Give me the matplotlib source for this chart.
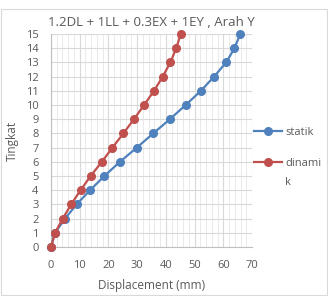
import matplotlib
matplotlib.use("Agg")
import matplotlib.pyplot as plt
from matplotlib.patches import Rectangle

levels = list(range(0, 16))
statik = [0, 1.4, 4.9, 8.9, 13.6, 18.6, 24.0, 29.9, 35.6, 41.4, 46.9, 52.2, 56.8, 61.0, 63.9, 65.9]
dinamik = [0, 1.4, 4.1, 7.0, 10.3, 13.8, 17.7, 21.4, 25.2, 28.9, 32.4, 35.9, 38.9, 41.6, 43.6, 45.2]
title = "1.2DL + 1LL + 0.3EX + 1EY , Arah Y"
xticks = [0, 10, 20, 30, 40, 50, 60, 70]

plt.rcParams['font.family'] = ['Open Sans', 'DejaVu Sans']
txt = '#595959'

fig = plt.figure(figsize=(3.28, 2.96), dpi=100)
fig.patches.append(Rectangle((0.003, 0.003), 0.994, 0.965, transform=fig.transFigure,
                             fill=False, edgecolor='#d9d9d9', linewidth=0.8))
W, H = 328, 296
ax = fig.add_axes([51 / W, 1 - 247 / H, (252 - 51) / W, (247 - 34) / H])

ax.set_xlim(0, 70)
ax.set_ylim(0, 15)
ax.set_xticks(xticks)
ax.set_xticks(range(0, 71, 2), minor=True)
ax.set_yticks(levels)
ax.grid(which='major', color='#d9d9d9', linewidth=0.8)
ax.grid(which='minor', axis='x', color='#e6e6e6', linewidth=0.6)
ax.set_axisbelow(True)
for s in ['top', 'right']:
    ax.spines[s].set_visible(False)
for s in ['left', 'bottom']:
    ax.spines[s].set_color('#bfbfbf')
ax.tick_params(which='both', length=0, colors=txt, labelsize=8)
ax.tick_params(axis='y', pad=9)
ax.tick_params(axis='x', pad=9)

ax.plot(statik, levels, color='#4F81BD', marker='o', markersize=5.5, linewidth=1.6,
        label='statik', clip_on=False, zorder=3)
ax.plot(dinamik, levels, color='#C0504D', marker='o', markersize=5.5, linewidth=1.6,
        label='dinami', clip_on=False, zorder=4)

ax.set_title(title, fontsize=9.5, color=txt, pad=6)
ax.set_xlabel('Displacement (mm)', fontsize=8.5, color=txt, labelpad=6)
ax.set_ylabel('Tingkat', fontsize=8.5, color=txt, labelpad=5)

leg = ax.legend(loc='upper left', bbox_to_anchor=(254 / W, 1 - 127 / H),
                bbox_transform=fig.transFigure, frameon=False, fontsize=8,
                handlelength=2.5, handletextpad=0.3, labelspacing=1.8, borderaxespad=0,
                borderpad=0)
for t in leg.get_texts():
    t.set_color(txt)

# wrapped continuation of the second legend label
fig.canvas.draw()
r = fig.canvas.get_renderer()
bb = leg.get_texts()[1].get_window_extent(r)
fig.text(bb.x0 / W, (bb.y0 - 19) / H, 'k', fontsize=8, color=txt, ha='left', va='bottom')

fig.savefig('out.png', dpi=100)
